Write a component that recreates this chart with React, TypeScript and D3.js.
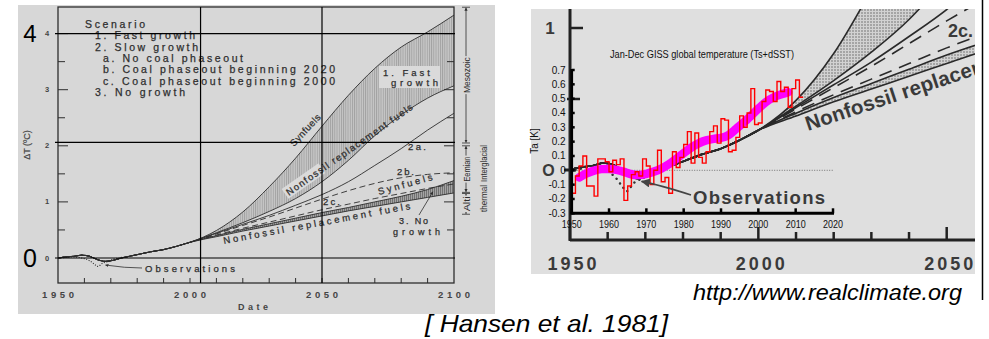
import React from 'react';
import * as d3 from 'd3';

// ---------- Hansen et al. 1981 projection (left figure, also overlaid right) ----------
const modelYears = [1950, 1953, 1956, 1959, 1962, 1965, 1968, 1971, 1974, 1977, 1980, 1985, 1990, 1995, 2000];
const modelValues = [0.0, 0.02, 0.03, 0.05, 0.03, -0.03, -0.06, -0.04, 0.0, 0.03, 0.06, 0.11, 0.15, 0.21, 0.28];

const scenarioYears = [2000, 2010, 2020, 2030, 2040, 2050, 2060, 2070, 2080, 2090, 2100];
const fastSynfuels = [0.28, 0.49, 0.82, 1.27, 1.78, 2.35, 2.9, 3.38, 3.76, 4.03, 4.33];
const fastNonfossil = [0.28, 0.45, 0.63, 0.83, 1.06, 1.36, 1.74, 2.18, 2.55, 2.85, 3.07];
const slowA = [0.28, 0.44, 0.6, 0.76, 0.94, 1.13, 1.36, 1.65, 1.95, 2.28, 2.58];
const slowB = [0.28, 0.43, 0.58, 0.73, 0.89, 1.05, 1.2, 1.33, 1.43, 1.49, 1.52];
const slowC = [0.28, 0.41, 0.53, 0.64, 0.75, 0.86, 0.96, 1.06, 1.15, 1.24, 1.32];
const noGrowthSynfuels = [0.28, 0.4, 0.51, 0.61, 0.71, 0.81, 0.9, 1.0, 1.1, 1.22, 1.38];
const noGrowthNonfossil = [0.28, 0.38, 0.48, 0.57, 0.66, 0.75, 0.84, 0.92, 1.0, 1.08, 1.16];

const obsYears = [1950, 1953, 1956, 1959, 1962, 1964, 1965, 1967, 1969, 1971, 1973, 1975];
const obsValues = [-0.01, 0.01, 0.02, 0.0, -0.05, -0.12, -0.15, -0.09, -0.06, -0.02, 0.0, 0.02];

const legendLines = ['Scenario', '1. Fast growth', '2. Slow growth', 'a. No coal phaseout', 'b. Coal phaseout beginning 2020', 'c. Coal phaseout beginning 2000', '3. No growth'];
const leftYTicks = [0, 1, 2, 3, 4];
const leftXTicks = [1950, 2000, 2050, 2100];

const paleoLabels = ['Mesozoic', 'Eemian', 'Alti'];
const paleoLow = [2.05, 1.17, 0.78];
const paleoHigh = [4.47, 2.0, 1.15];

const overlayLevels = [4, 2.06, 0];
const overlayYears = [2004, 2050];

// ---------- GISS annual global temperature (right inset) ----------
const gissYears = d3.range(1950, 2012);
const gissValues = [-0.16, -0.04, 0.03, 0.10, -0.11, -0.11, -0.18, 0.08, 0.08, 0.06,
  -0.01, 0.07, 0.04, 0.08, -0.21, -0.11, -0.03, -0.01, -0.04, 0.08,
  0.03, -0.10, 0.00, 0.14, -0.08, -0.05, -0.16, 0.13, 0.02, 0.09,
  0.18, 0.27, 0.05, 0.26, 0.09, 0.05, 0.13, 0.27, 0.31, 0.19,
  0.36, 0.35, 0.13, 0.14, 0.23, 0.38, 0.30, 0.40, 0.57, 0.32,
  0.33, 0.48, 0.56, 0.55, 0.48, 0.62, 0.55, 0.58, 0.44, 0.57,
  0.63, 0.51];
const smoothYears = [1952, 1954, 1956, 1958, 1960, 1962, 1964, 1966, 1968, 1970, 1972, 1974, 1976, 1978, 1980, 1982, 1984, 1986, 1988, 1990, 1992, 1994, 1996, 1998, 2000, 2002, 2004, 2006, 2008];
const smoothValues = [-0.05, -0.02, 0.0, 0.01, 0.01, 0.005, -0.01, -0.03, -0.035, -0.025, -0.01, 0.01, 0.04, 0.08, 0.12, 0.16, 0.19, 0.21, 0.22, 0.225, 0.24, 0.29, 0.33, 0.38, 0.43, 0.48, 0.51, 0.53, 0.545];

const insetYTicks = [0.7, 0.6, 0.5, 0.4, 0.3, 0.2, 0.1, 0, -0.1, -0.2, -0.3];
const insetXTicks = [1950, 1960, 1970, 1980, 1990, 2000, 2010, 2020];
const bigXTicks = [1950, 1960, 1970, 1980, 1990, 2000, 2010, 2020, 2030, 2040, 2050];
const bigXLabels = [1950, 2000, 2050];

const FONT = "'Liberation Sans', Arial, Helvetica, sans-serif";
const INK = '#2e2e2e';

export default function App() {
  const xL = d3.scaleLinear().domain([1950, 2100]).range([58, 454]);
  const yL = d3.scaleLinear().domain([0, 4]).range([258, 33.6]);
  const xR = d3.scaleLinear().domain([1950, 2050]).range([570, 946.7]);
  const yR = d3.scaleLinear().domain([0, 1]).range([170, 28]);
  const xI = d3.scaleLinear().domain([1950, 2020]).range([571.7, 833]);
  const yI = d3.scaleLinear().domain([-0.3, 0.7]).range([213.3, 70]);

  const pts = (ys: number[], vs: number[]) => ys.map((y, i) => [y, vs[i]]);
  const withModel = (vals: number[]) => [...pts(modelYears, modelValues), ...pts(scenarioYears.slice(1), vals.slice(1))];
  const band = (lo: number[], hi: number[]) => scenarioYears.map((y, i) => [y, lo[i], hi[i]]);

  const mkLine = (x: any, y: any) => d3.line().x((d: any) => x(d[0])).y((d: any) => y(d[1])).curve(d3.curveMonotoneX);
  const mkArea = (x: any, y: any) => d3.area().x((d: any) => x(d[0])).y0((d: any) => y(d[1])).y1((d: any) => y(d[2])).curve(d3.curveMonotoneX);
  const lineL = mkLine(xL, yL);
  const lineR = mkLine(xR, yR);
  const areaL = mkArea(xL, yL);
  const areaR = mkArea(xR, yR);

  const scen = [
    { v: fastSynfuels, dash: false },
    { v: fastNonfossil, dash: false },
    { v: slowA, dash: false },
    { v: slowB, dash: true },
    { v: slowC, dash: true },
    { v: noGrowthSynfuels, dash: false },
    { v: noGrowthNonfossil, dash: false },
  ];

  const gissPts = [...pts(gissYears, gissValues), [gissYears[gissYears.length - 1] + 1, gissValues[gissValues.length - 1]]];
  const stepLine = d3.line().x((d: any) => xI(d[0])).y((d: any) => yI(d[1])).curve(d3.curveStepAfter);
  const smoothLine = d3.line().x((d: any) => xI(d[0])).y((d: any) => yI(d[1])).curve(d3.curveBasis);

  const leftMinorTicks = d3.range(0.5, 4.5, 0.5);
  const leftBottomTicks = d3.range(1960, 2100, 10);

  const legendWidths = [60, 100, 103, 140, 232, 232, 90];
  const legendX = [85, 95, 95, 103, 103, 103, 95];
  const txt = { fill: INK, stroke: INK, strokeWidth: 0.25 };

  return (
    <svg width={989} height={339} style={{ position: 'absolute', left: 0, top: 0, background: '#fff' }} fontFamily={FONT}>
      <defs>
        <pattern id="hatchL" width={2.2} height={4} patternUnits="userSpaceOnUse">
          <rect width={2.2} height={4} fill="#c6c6c6" />
          <line x1={0.5} y1={0} x2={0.5} y2={4} stroke="#858585" strokeWidth={0.6} />
        </pattern>
        <pattern id="hatchL2" width={2} height={4} patternUnits="userSpaceOnUse">
          <rect width={2} height={4} fill="#a4a4a4" />
          <line x1={0.5} y1={0} x2={0.5} y2={4} stroke="#5c5c5c" strokeWidth={0.7} />
        </pattern>
        <pattern id="dotsR" width={3} height={3} patternUnits="userSpaceOnUse">
          <rect width={3} height={3} fill="#d2d2d2" />
          <circle cx={1} cy={1} r={0.7} fill="#555" />
        </pattern>
        <clipPath id="clipL"><rect x={58} y={7} width={396} height={276} /></clipPath>
        <clipPath id="clipR"><rect x={570} y={9} width={405} height={231} /></clipPath>
        <clipPath id="clipRText"><rect x={531} y={9} width={444} height={265} /></clipPath>
        <marker id="arrS" viewBox="0 0 6 6" refX={5.5} refY={3} markerWidth={4} markerHeight={4} orient="auto-start-reverse">
          <path d="M0,0 L6,3 L0,6 Z" fill={INK} />
        </marker>
        <marker id="arrB" viewBox="0 0 6 6" refX={5.5} refY={3} markerWidth={5} markerHeight={5} orient="auto">
          <path d="M0,0 L6,3 L0,6 Z" fill="#444" />
        </marker>
      </defs>

      {/* ================= LEFT FIGURE ================= */}
      <rect x={18} y={5} width={477} height={309} fill="#d7d7d7" />
      <g clipPath="url(#clipL)">
        <path d={areaL(band(fastNonfossil, fastSynfuels) as any) || ''} fill="url(#hatchL)" />
        <path d={areaL(band(noGrowthNonfossil, noGrowthSynfuels) as any) || ''} fill="url(#hatchL2)" />
        {scen.map((s, i) => (
          <path key={i} d={lineL(withModel(s.v) as any) || ''} fill="none" stroke={INK} strokeWidth={0.9}
            strokeDasharray={s.dash ? '6 3.5' : undefined} />
        ))}
        <path d={lineL(pts(obsYears, obsValues) as any) || ''} fill="none" stroke={INK} strokeWidth={1.1} strokeDasharray="1 1.6" />
      </g>
      {/* frame */}
      <rect x={58} y={7} width={396} height={276} fill="none" stroke={INK} strokeWidth={1.3} />
      {leftMinorTicks.map((t) => (
        <g key={t}>
          <line x1={58} x2={58 + (t % 1 === 0 ? 10 : 7)} y1={yL(t)} y2={yL(t)} stroke={INK} strokeWidth={1} />
          <line x1={454} x2={454 - (t % 1 === 0 ? 10 : 7)} y1={yL(t)} y2={yL(t)} stroke={INK} strokeWidth={1} />
        </g>
      ))}
      {leftBottomTicks.map((t) => (
        <line key={t} x1={xL(t)} x2={xL(t)} y1={283} y2={278} stroke={INK} strokeWidth={1} />
      ))}
      {leftYTicks.map((t) => (
        <text key={t} x={47} y={yL(t) + 2.5} fontSize={7.5} fontWeight="bold" fill="#444" textAnchor="middle">{t}</text>
      ))}
      {leftXTicks.map((t) => (
        <text key={t} x={xL(t)} y={298} fontSize={9.5} fontWeight="bold" fill="#444" textAnchor="middle" textLength={32} lengthAdjust="spacing">{t}</text>
      ))}
      <text x={253} y={310} fontSize={9} fontWeight="bold" fill="#444" textAnchor="middle" textLength={30} lengthAdjust="spacing">Date</text>
      <text transform="translate(30,145) rotate(-90)" fontSize={9} fill="#444" stroke="#444" strokeWidth={0.2} textAnchor="middle">ΔT (ºC)</text>

      {/* legend */}
      {legendLines.map((s, i) => (
        <text key={s} x={legendX[i]} y={28 + i * 11.3} fontSize={10.5} {...txt} textLength={legendWidths[i]} lengthAdjust="spacing">{s}</text>
      ))}

      {/* curve labels */}
      <rect x={379} y={66} width={61} height={22} fill="#dadada" />
      <text x={383} y={76} fontSize={9.5} {...txt} textLength={47} lengthAdjust="spacing">1. Fast</text>
      <text x={391} y={86} fontSize={9.5} {...txt} textLength={47} lengthAdjust="spacing">growth</text>
      <text x={408} y={150} fontSize={9.5} {...txt} textLength={18} lengthAdjust="spacing">2a.</text>
      <text x={397} y={175} fontSize={9.5} {...txt} textLength={17} lengthAdjust="spacing">2b.</text>
      <text x={323} y={205} fontSize={9.5} {...txt} textLength={17} lengthAdjust="spacing">2c.</text>
      <text transform="translate(294,147) rotate(-47)" fontSize={9.5} {...txt} textLength={40} lengthAdjust="spacing">Synfuels</text>
      <g transform="translate(289,196) rotate(-35)">
        <rect x={-2} y={-10} width={45} height={12} fill="#dadada" />
        <text x={0} y={0} fontSize={9.5} {...txt} textLength={152} lengthAdjust="spacing">Nonfossil replacement fuels</text>
      </g>
      <text transform="translate(379,195) rotate(-15.5)" fontSize={9.5} {...txt} textLength={56} lengthAdjust="spacing">Synfuels</text>
      <text transform="translate(224,244) rotate(-10.6)" fontSize={9.5} {...txt} textLength={190} lengthAdjust="spacing">Nonfossil replacement fuels</text>
      <text x={399} y={224} fontSize={9} {...txt} textLength={29} lengthAdjust="spacing">3. No</text>
      <text x={393} y={234.5} fontSize={9} {...txt} textLength={47} lengthAdjust="spacing">growth</text>
      <line x1={419} y1={215} x2={xL(2092)} y2={yL(1.18)} stroke={INK} strokeWidth={0.8} markerEnd="url(#arrS)" />
      <text x={145} y={272} fontSize={9.5} {...txt} textLength={90} lengthAdjust="spacing">Observations</text>
      <path d={`M142,268 Q125,268 ${xL(1968)},${yL(-0.09) + 2}`} fill="none" stroke={INK} strokeWidth={0.8} markerEnd="url(#arrS)" />

      {/* paleo ranges */}
      {paleoLabels.map((s, i) => {
        const y1 = yL(paleoHigh[i]);
        const y2 = yL(paleoLow[i]);
        const mid = (y1 + y2) / 2;
        const len = i === 0 ? 36 : i === 1 ? 25 : 15;
        return (
          <g key={s}>
            <line x1={466} x2={466} y1={y1 + 0.5} y2={y2 - 0.5} stroke={INK} strokeWidth={0.8} markerStart="url(#arrS)" markerEnd="url(#arrS)" />
            <line x1={462} x2={470} y1={y1} y2={y1} stroke={INK} strokeWidth={0.8} />
            <line x1={462} x2={470} y1={y2} y2={y2} stroke={INK} strokeWidth={0.8} />
            <rect x={461} y={mid - len / 2 - 1} width={10} height={len + 2} fill="#d7d7d7" />
            <text transform={`translate(469.5,${mid}) rotate(-90)`} fontSize={8.5} fill={INK} textAnchor="middle" textLength={len} lengthAdjust="spacingAndGlyphs">{s}</text>
          </g>
        );
      })}
      <text transform="translate(486.5,163.5) rotate(-90)" fontSize={8.5} fill={INK} textAnchor="middle" textLength={37} lengthAdjust="spacingAndGlyphs">Interglacial</text>
      <text transform="translate(486.5,198.5) rotate(-90)" fontSize={8.5} fill={INK} textAnchor="middle" textLength={27} lengthAdjust="spacingAndGlyphs">thermal</text>

      {/* presenter overlays */}
      {overlayLevels.map((v) => (
        <line key={v} x1={55} x2={455} y1={yL(v)} y2={yL(v)} stroke="#000" strokeWidth={1.2} />
      ))}
      {overlayYears.map((yr) => (
        <line key={yr} x1={xL(yr)} x2={xL(yr)} y1={7} y2={283} stroke="#000" strokeWidth={1.2} />
      ))}
      <text x={30} y={yL(4) + 8.5} fontSize={24} fill="#000" textAnchor="middle">4</text>
      <text x={30} y={yL(0) + 9} fontSize={25} fill="#000" textAnchor="middle">0</text>

      {/* ================= RIGHT FIGURE ================= */}
      <rect x={531} y={9} width={444} height={265} fill="#dfdfdf" />
      <g clipPath="url(#clipR)">
        <path d={areaR(band(fastNonfossil, fastSynfuels) as any) || ''} fill="url(#dotsR)" />
        <path d={areaR(band(noGrowthNonfossil, noGrowthSynfuels) as any) || ''} fill="url(#dotsR)" />
        {scen.map((s, i) => (
          <path key={i} d={lineR(withModel(s.v) as any) || ''} fill="none" stroke="#2a2a2a" strokeWidth={1.6}
            strokeDasharray={s.dash ? '13 8' : undefined} />
        ))}
        <path d={lineR(pts(obsYears, obsValues) as any) || ''} fill="none" stroke="#333" strokeWidth={2.4} strokeDasharray="0.1 5.5" strokeLinecap="round" />
      </g>
      {/* big axes */}
      <line x1={570} x2={570} y1={9} y2={241} stroke="#222" strokeWidth={3} />
      <line x1={570} x2={583} y1={yR(1)} y2={yR(1)} stroke="#222" strokeWidth={2.5} />
      <line x1={567} x2={580} y1={yR(0.5)} y2={yR(0.5)} stroke="#222" strokeWidth={2.5} />
      <line x1={564} x2={576} y1={yR(0)} y2={yR(0)} stroke="#222" strokeWidth={3} />
      <text x={550} y={yR(1) + 6} fontSize={17} fontWeight="bold" fill="#3a3a3a" textAnchor="middle">1</text>
      <text x={548.5} y={yR(0) + 6} fontSize={16} fontWeight="bold" fill="#3a3a3a" textAnchor="middle">O</text>
      <line x1={570} x2={975} y1={240} y2={240} stroke="#222" strokeWidth={3} />
      {bigXTicks.map((t) => (
        <line key={t} x1={xR(t)} x2={xR(t)} y1={240} y2={t % 50 === 0 ? 227 : 232} stroke="#222" strokeWidth={2.5} />
      ))}
      <g clipPath="url(#clipRText)">
        {bigXLabels.map((t) => (
          <text key={t} x={xR(t) + 2} y={270} fontSize={18} fontWeight="bold" fill="#3a3a3a" textAnchor="middle" textLength={49} lengthAdjust="spacing">{t}</text>
        ))}
        <text transform={`translate(808,131) rotate(-18.4)`} fontSize={20.5} fontWeight="bold" fill="#3a3a3a" textLength={224} lengthAdjust="spacing">Nonfossil replacement</text>
        <text x={948} y={37} fontSize={18} fontWeight="bold" fill="#3a3a3a">2c.</text>
      </g>

      {/* inset GISS chart */}
      <line x1={xI(1950)} x2={xI(2020)} y1={yI(0)} y2={yI(0)} stroke="#555" strokeWidth={0.8} strokeDasharray="1 1.5" />
      <path d={smoothLine(pts(smoothYears, smoothValues) as any) || ''} fill="none" stroke="#ff00ff" strokeWidth={8.5} strokeLinecap="round" strokeLinejoin="round" />
      <path d={stepLine(gissPts as any) || ''} fill="none" stroke="#ff0000" strokeWidth={1.4} />
      <line x1={xI(1950)} x2={xI(1950)} y1={yI(0.7) - 1} y2={yI(-0.3) + 1} stroke="#000" strokeWidth={2.8} />
      <line x1={xI(1950) - 1} x2={xI(2020) + 1} y1={yI(-0.3)} y2={yI(-0.3)} stroke="#000" strokeWidth={3} />
      {insetYTicks.map((t) => (
        <g key={t}>
          <line x1={xI(1950)} x2={xI(1950) + 3} y1={yI(t)} y2={yI(t)} stroke="#000" strokeWidth={2.5} />
          <text x={xI(1950) - 6} y={yI(t) + 3.5} fontSize={10} fill="#111" textAnchor="end">{t === 0 ? '0' : t.toFixed(1)}</text>
        </g>
      ))}
      {insetXTicks.map((t) => (
        <g key={t}>
          <line x1={xI(t)} x2={xI(t)} y1={yI(-0.3)} y2={yI(-0.3) - 5} stroke="#000" strokeWidth={2.5} />
          <text x={xI(t)} y={228} fontSize={10} fill="#111" textAnchor="middle" textLength={20} lengthAdjust="spacingAndGlyphs">{t}</text>
        </g>
      ))}
      <text x={610} y={58} fontSize={10.5} fill="#111" textLength={184} lengthAdjust="spacingAndGlyphs">Jan-Dec  GISS global temperature (Ts+dSST)</text>
      <text transform="translate(538,141) rotate(-90)" fontSize={10} fill="#111" textAnchor="middle">Ta [K]</text>

      <text x={693} y={204} fontSize={18.5} fontWeight="bold" fill="#3a3a3a" textLength={132} lengthAdjust="spacing">Observations</text>
      <path d={`M691,195 Q660,185 ${xR(1969)},${yR(-0.08)}`} fill="none" stroke="#444" strokeWidth={1.8} markerEnd="url(#arrB)" />

      {/* outer annotations */}
      <line x1={982.5} x2={982.5} y1={0} y2={300} stroke="#000" strokeWidth={1.5} />
      <text x={693} y={300} fontSize={22} fontStyle="italic" fill="#000" textLength={269} lengthAdjust="spacingAndGlyphs">http://www.realclimate.org</text>
      <text x={425} y={332} fontSize={24} fontStyle="italic" fill="#000" textLength={243} lengthAdjust="spacingAndGlyphs">[ Hansen et al. 1981]</text>
    </svg>
  );
}
